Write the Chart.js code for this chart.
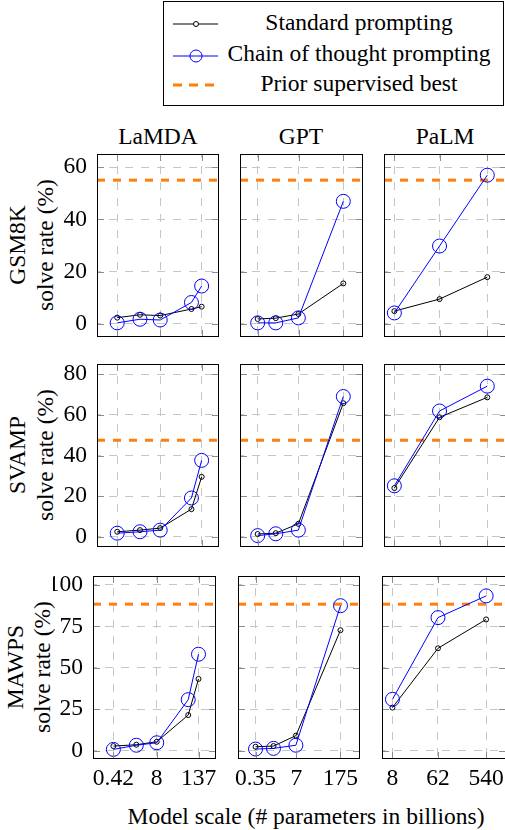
<!DOCTYPE html>
<html>
<head>
<meta charset="utf-8">
<script src="https://cdn.jsdelivr.net/npm/chart.js@4.4.0/dist/chart.umd.min.js"></script>
<style>
body{margin:0;width:505px;height:830px;overflow:hidden;background:#fff;position:relative;font-family:"Liberation Serif",serif;color:#000}
canvas{position:absolute}
.t{position:absolute;font-size:23.5px;white-space:nowrap;transform:translate(-50%,-50%);line-height:1}
.r{transform:translate(-50%,-50%) rotate(-90deg)}
#legend{position:absolute;left:163px;top:1px;width:341px;height:105px;border:1px solid #000;box-sizing:border-box;background:#fff}
#legend svg{position:absolute;left:0;top:0}
#legend .lt{position:absolute;left:195px;font-size:23.5px;white-space:nowrap;transform:translate(-50%,-50%);line-height:1}
</style>
</head>
<body>

<div id="legend">
<svg width="60" height="105">
 <line x1="9" y1="22" x2="54" y2="22" stroke="#000" stroke-width="1"/>
 <circle cx="32" cy="22" r="2.5" fill="#fff" stroke="#000" stroke-width="1"/>
 <line x1="9" y1="54" x2="54" y2="54" stroke="#0000ff" stroke-width="1"/>
 <circle cx="32" cy="54" r="6" fill="none" stroke="#0000ff" stroke-width="1"/>
 <line x1="9" y1="83" x2="54" y2="83" stroke="#ff7f0e" stroke-width="3" stroke-dasharray="9,7"/>
</svg>
<div class="lt" style="top:21px">Standard prompting</div>
<div class="lt" style="top:52px">Chain of thought prompting</div>
<div class="lt" style="top:82px">Prior supervised best</div>
</div>

<div class="t" style="left:158px;top:137px">LaMDA</div>
<div class="t" style="left:301px;top:137px">GPT</div>
<div class="t" style="left:445px;top:137px">PaLM</div>

<div class="t r" style="left:18px;top:245px">GSM8K</div>
<div class="t r" style="left:46px;top:245px">solve rate (%)</div>
<div class="t r" style="left:18px;top:455px">SVAMP</div>
<div class="t r" style="left:46px;top:455px">solve rate (%)</div>
<div class="t r" style="left:16px;top:667px">MAWPS</div>
<div class="t r" style="left:43px;top:667px">solve rate (%)</div>

<div class="t" style="left:306px;top:817px">Model scale (# parameters in billions)</div>

<canvas id="c11"></canvas><canvas id="c12"></canvas><canvas id="c13"></canvas>
<canvas id="c21"></canvas><canvas id="c22"></canvas><canvas id="c23"></canvas>
<canvas id="c31"></canvas><canvas id="c32"></canvas><canvas id="c33"></canvas>

<script>
// model sizes (billions of parameters)
var lamdaSizes = [0.42, 2, 8, 68, 137];
var gptSizes = [0.35, 1.3, 6.7, 175];
var palmSizes = [8, 62, 540];

var lamdaTicks = [0.42, 8, 137];
var gptTicks = [0.35, 7, 175];
var palmTicks = [8, 62, 540];

// GSM8K
var gsmLamdaStd = [2.4, 3.5, 3.2, 5.7, 6.6];
var gsmLamdaCot = [0.4, 1.8, 1.5, 8.2, 14.5];
var gsmGptStd = [1.9, 2.2, 3.8, 15.5];
var gsmGptCot = [0.4, 0.4, 2.3, 46.9];
var gsmPalmStd = [4.9, 9.5, 17.9];
var gsmPalmCot = [4.2, 29.8, 56.9];
var gsmBest = 55;
var gsmTicks = [0, 20, 40, 60];

// SVAMP
var svLamdaStd = [2.5, 3.3, 4.3, 13.6, 29.5];
var svLamdaCot = [1.8, 2.5, 3.3, 19.1, 37.6];
var svGptStd = [1.4, 1.8, 6.4, 65.7];
var svGptCot = [0.6, 1.5, 3.3, 69.0];
var svPalmStd = [24.0, 58.8, 68.6];
var svPalmCot = [25.1, 61.9, 74.1];
var svBest = 47.5;
var svTicks = [0, 20, 40, 60, 80];

// MAWPS
var mwLamdaStd = [2.8, 3.6, 5.4, 21.5, 43.3];
var mwLamdaCot = [0.8, 3.3, 4.8, 30.8, 58.2];
var mwGptStd = [2.4, 2.8, 9.1, 72.7];
var mwGptCot = [1.0, 1.4, 3.3, 87.5];
var mwPalmStd = [26.0, 61.8, 79.2];
var mwPalmCot = [31.0, 80.3, 93.4];
var mwBest = 88.4;
var mwTicks = [0, 25, 50, 75, 100];

var FONT = {family: '"Liberation Serif", serif', size: 23.5};
var GRID = '#c6c6c6';
var M = 20; // spare room round each plot frame for labels

// frame plus small inward tick marks, like the pgfplots look
var boxPlugin = {
	id: 'box',
	afterDatasetsDraw: function(chart){
		var a = chart.chartArea, c = chart.ctx;
		var L = Math.round(a.left), T = Math.round(a.top), R = Math.round(a.right), B = Math.round(a.bottom);
		c.save();
		c.strokeStyle = '#8c8c8c';
		c.lineWidth = 1;
		c.beginPath();
		chart.scales.y.ticks.forEach(function(t){
			var y = Math.round(chart.scales.y.getPixelForValue(t.value)) + 0.5;
			c.moveTo(L, y); c.lineTo(L + 7, y);
			c.moveTo(R, y); c.lineTo(R - 7, y);
		});
		chart.scales.x.ticks.forEach(function(t){
			var x = Math.round(chart.scales.x.getPixelForValue(t.value)) + 0.5;
			c.moveTo(x, B); c.lineTo(x, B - 7);
			c.moveTo(x, T); c.lineTo(x, T + 7);
		});
		c.stroke();
		c.strokeStyle = '#000';
		c.strokeRect(L + 0.5, T + 0.5, R - L - 1, B - T - 1);
		c.restore();
	}
};

function pts(xs, ys){
	var out = [];
	for (var i = 0; i < xs.length; i++) out.push({x: xs[i], y: ys[i]});
	return out;
}

function noPad(s){
	s.paddingTop = 0; s.paddingBottom = 0; s.paddingLeft = 0; s.paddingRight = 0;
}

// box = [left, top, right, bottom] of the plot frame in page pixels
function panel(id, box, sizes, std, cot, best, xMin, xMax, xTicks, yMin, yMax, yTicks, showY, showX){
	var yw = showY ? 40 : 0;
	var xh = showX ? 34 : 0;
	var cv = document.getElementById(id);
	var w = box[2] - box[0] + yw + 2 * M;
	var h = box[3] - box[1] + xh + 2 * M;
	cv.width = w; cv.height = h;
	cv.style.left = (box[0] - yw - M) + 'px';
	cv.style.top = (box[1] - M) + 'px';
	cv.style.width = w + 'px'; cv.style.height = h + 'px';

	new Chart(cv, {
		type: 'line',
		data: {
			datasets: [
				{
					data: pts(sizes, cot),
					borderColor: '#0000ff', borderWidth: 1,
					pointRadius: 7, pointBorderWidth: 1,
					pointBorderColor: '#0000ff', pointBackgroundColor: 'rgba(0,0,0,0)',
					tension: 0, clip: false
				},
				{
					data: pts(sizes, std),
					borderColor: '#000', borderWidth: 1,
					pointRadius: 2.5, pointBorderWidth: 1,
					pointBorderColor: '#000', pointBackgroundColor: 'rgba(0,0,0,0)',
					tension: 0, clip: false
				},
				{
					data: [{x: xMin, y: best}, {x: xMax, y: best}],
					borderColor: '#ff7f0e', borderWidth: 3, borderDash: [8, 8],
					pointRadius: 0, tension: 0
				}
			]
		},
		options: {
			responsive: false,
			animation: false,
			devicePixelRatio: 1,
			layout: {padding: M, autoPadding: false},
			plugins: {legend: {display: false}, tooltip: {enabled: false}},
			scales: {
				x: {
					type: 'logarithmic', min: xMin, max: xMax,
					afterBuildTicks: function(s){ s.ticks = xTicks.map(function(v){ return {value: v}; }); },
					afterFit: function(s){ s.height = xh; noPad(s); },
					grid: {color: GRID, lineWidth: 1, drawTicks: false},
					border: {display: false, dash: [8, 8], dashOffset: 4},
					ticks: {display: showX, font: FONT, color: '#000', padding: 6,
						maxRotation: 0, autoSkip: false,
						callback: function(v){ return String(v); }}
				},
				y: {
					type: 'linear', min: yMin, max: yMax,
					afterBuildTicks: function(s){ s.ticks = yTicks.map(function(v){ return {value: v}; }); },
					afterFit: function(s){ s.width = yw; noPad(s); },
					grid: {color: GRID, lineWidth: 1, drawTicks: false},
					border: {display: false, dash: [8, 8], dashOffset: 4},
					ticks: {display: showY, font: FONT, color: '#000', padding: 10,
						callback: function(v){ return String(v); }}
				}
			}
		},
		plugins: [boxPlugin]
	});
}

var LX = [0.105, 450], GX = [0.097, 730], PX = [5.0, 1320];

panel('c11', [97, 154, 219, 337], lamdaSizes, gsmLamdaStd, gsmLamdaCot, gsmBest, LX[0], LX[1], lamdaTicks, -5, 65, gsmTicks, true, false);
panel('c12', [240, 154, 363, 337], gptSizes, gsmGptStd, gsmGptCot, gsmBest, GX[0], GX[1], gptTicks, -5, 65, gsmTicks, false, false);
panel('c13', [384, 154, 507, 337], palmSizes, gsmPalmStd, gsmPalmCot, gsmBest, PX[0], PX[1], palmTicks, -5, 65, gsmTicks, false, false);

panel('c21', [97, 364, 219, 547], lamdaSizes, svLamdaStd, svLamdaCot, svBest, LX[0], LX[1], lamdaTicks, -5, 85, svTicks, true, false);
panel('c22', [240, 364, 363, 547], gptSizes, svGptStd, svGptCot, svBest, GX[0], GX[1], gptTicks, -5, 85, svTicks, false, false);
panel('c23', [384, 364, 507, 547], palmSizes, svPalmStd, svPalmCot, svBest, PX[0], PX[1], palmTicks, -5, 85, svTicks, false, false);

panel('c31', [93, 576, 216, 759], lamdaSizes, mwLamdaStd, mwLamdaCot, mwBest, LX[0], LX[1], lamdaTicks, -5, 105.4, mwTicks, true, true);
panel('c32', [238, 576, 360, 759], gptSizes, mwGptStd, mwGptCot, mwBest, GX[0], GX[1], gptTicks, -5, 105.4, mwTicks, false, true);
panel('c33', [382, 576, 506, 759], palmSizes, mwPalmStd, mwPalmCot, mwBest, PX[0], PX[1], palmTicks, -5, 105.4, mwTicks, false, true);
</script>
</body>
</html>
